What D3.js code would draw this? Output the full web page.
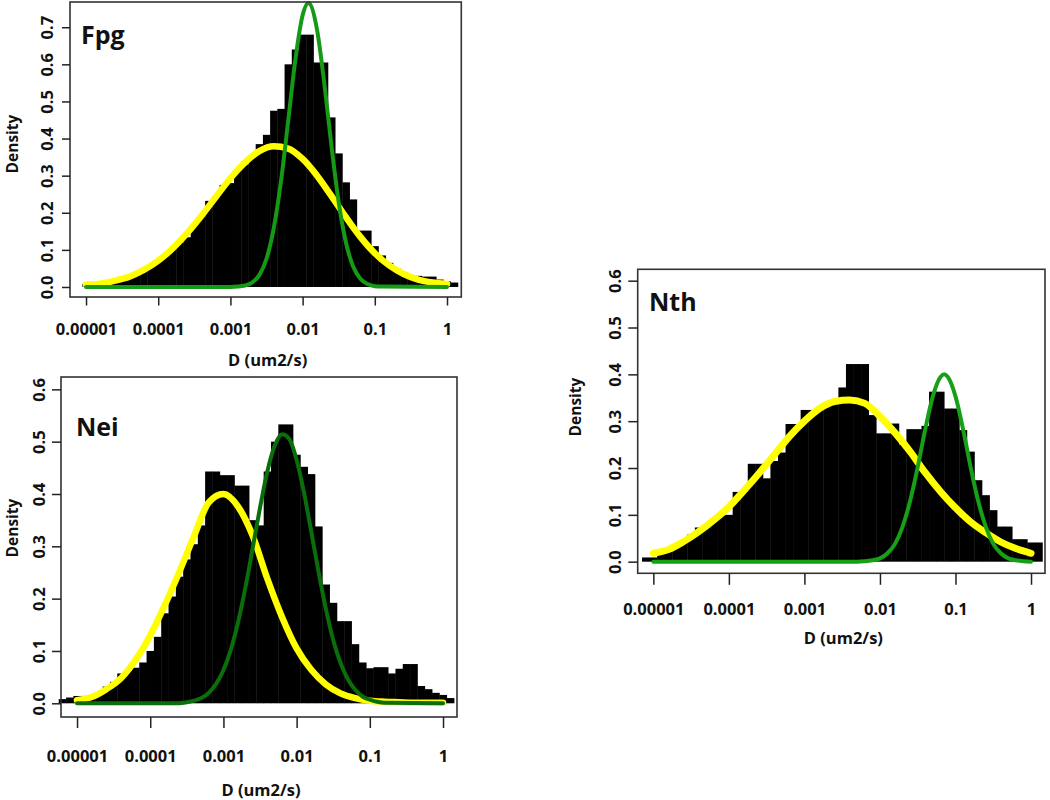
<!DOCTYPE html>
<html>
<head>
<meta charset="utf-8">
<script src="https://cdn.jsdelivr.net/npm/d3@7"></script>
<style>
  html, body { margin: 0; padding: 0; background: #ffffff; }
  svg { display: block; }
  text { font-family: "Open Sans", Lato, "DejaVu Sans", sans-serif; font-weight: 700; fill: #111; }
</style>
</head>
<body>
<svg id="chart" width="1050" height="800"></svg>
<script>
// ---------------- DATA ----------------
const tickValues = [1e-5, 1e-4, 1e-3, 1e-2, 1e-1, 1];
const tickLabels = ["0.00001", "0.0001", "0.001", "0.01", "0.1", "1"];
const xLabel = "D (um2/s)";
const yLabel = "Density";
const binWidthLog = 0.1;   // histogram bin width in log10(D)

// Fpg
const fpgTitle = "Fpg";
const fpgYTicks = [0, 0.1, 0.2, 0.3, 0.4, 0.5, 0.6, 0.7];
const fpgBinStart = -5.05;
const fpgHeights = [0.008, 0.006, 0.008, 0.010, 0.014, 0.018, 0.026, 0.040, 0.045, 0.055,
  0.070, 0.085, 0.105, 0.120, 0.134, 0.167, 0.190, 0.232, 0.245, 0.275,
  0.280, 0.318, 0.330, 0.350, 0.385, 0.410, 0.475, 0.480, 0.600, 0.640,
  0.680, 0.680, 0.605, 0.605, 0.457, 0.360, 0.282, 0.236, 0.152, 0.152,
  0.110, 0.085, 0.065, 0.050, 0.040, 0.032, 0.030, 0.028, 0.028, 0.020,
  0.015, 0.012];
const fpgYellowLogD = [-5.0, -4.8, -4.6, -4.4, -4.2, -4.0, -3.8, -3.6, -3.4, -3.2, -3.0, -2.8, -2.6,
  -2.4, -2.2, -2.0, -1.8, -1.6, -1.4, -1.2, -1.0, -0.8, -0.6, -0.4, -0.2, 0.0];
const fpgYellow = [0.007, 0.009, 0.017, 0.028, 0.046, 0.071, 0.104, 0.145, 0.192, 0.243, 0.293, 0.335, 0.366,
  0.379, 0.373, 0.345, 0.300, 0.245, 0.188, 0.135, 0.091, 0.058, 0.035, 0.020, 0.012, 0.008];
const fpgGreenLogD = [-5.0, -3.0, -2.9, -2.8, -2.7, -2.6, -2.5, -2.4, -2.3, -2.2, -2.1, -2.0, -1.92,
  -1.8, -1.7, -1.6, -1.5, -1.4, -1.3, -1.2, -1.1, -1.0, -0.9, 0.0];
const fpgGreen = [0, 0, 0.001, 0.004, 0.012, 0.032, 0.076, 0.158, 0.284, 0.447, 0.613, 0.732, 0.765,
  0.693, 0.549, 0.379, 0.228, 0.120, 0.055, 0.022, 0.008, 0.002, 0.001, 0];

// Nei
const neiTitle = "Nei";
const neiYTicks = [0, 0.1, 0.2, 0.3, 0.4, 0.5, 0.6];
const neiBinStart = -5.25;
const neiHeights = [0.008, 0.011, 0.014, 0.014, 0.014, 0.019, 0.032, 0.041, 0.057, 0.062,
  0.068, 0.078, 0.100, 0.127, 0.172, 0.204, 0.242, 0.275, 0.304, 0.340,
  0.443, 0.443, 0.436, 0.436, 0.416, 0.416, 0.350, 0.340, 0.443, 0.500,
  0.533, 0.533, 0.475, 0.452, 0.438, 0.338, 0.227, 0.192, 0.157, 0.157,
  0.113, 0.078, 0.067, 0.069, 0.069, 0.057, 0.066, 0.075, 0.075, 0.033,
  0.027, 0.020, 0.016, 0.010];
const neiYellowLogD = fpgYellowLogD;
const neiYellow = [0.006, 0.012, 0.027, 0.048, 0.083, 0.130, 0.188, 0.252, 0.320, 0.384, 0.400, 0.376, 0.320,
  0.238, 0.165, 0.105, 0.064, 0.036, 0.019, 0.010, 0.005, 0.003, 0.002, 0.001, 0.001, 0.001];
const neiGreenLogD = [-5.0, -3.6, -3.5, -3.4, -3.3, -3.2, -3.1, -3.0, -2.9, -2.8, -2.7, -2.6, -2.5, -2.4,
  -2.3, -2.2, -2.1, -2.0, -1.9, -1.8, -1.7, -1.6, -1.5, -1.4, -1.3, -1.2, -1.1, -1.0, -0.9, -0.8, 0.0];
const neiGreen = [0, 0, 0.002, 0.005, 0.010, 0.020, 0.037, 0.063, 0.102, 0.155, 0.221, 0.297, 0.374, 0.443,
  0.492, 0.514, 0.505, 0.465, 0.403, 0.328, 0.251, 0.180, 0.121, 0.077, 0.046, 0.026, 0.013, 0.007, 0.003, 0.001, 0];

// Nth
const nthTitle = "Nth";
const nthYTicks = [0, 0.1, 0.2, 0.3, 0.4, 0.5, 0.6];
const nthBinStart = -5.15;
const nthHeights = [0.009, 0.009, 0.026, 0.026, 0.035, 0.045, 0.058, 0.073, 0.073, 0.089,
  0.100, 0.100, 0.149, 0.149, 0.209, 0.209, 0.178, 0.215, 0.233, 0.294,
  0.294, 0.324, 0.324, 0.324, 0.335, 0.345, 0.372, 0.422, 0.422, 0.422,
  0.313, 0.274, 0.274, 0.295, 0.250, 0.283, 0.283, 0.290, 0.363, 0.363,
  0.327, 0.327, 0.281, 0.235, 0.174, 0.142, 0.110, 0.075, 0.075, 0.048,
  0.048, 0.041, 0.041];
const nthYellowLogD = fpgYellowLogD;
const nthYellow = [0.018, 0.026, 0.043, 0.064, 0.089, 0.117, 0.152, 0.189, 0.228, 0.267, 0.300, 0.327, 0.342,
  0.345, 0.338, 0.310, 0.275, 0.235, 0.190, 0.150, 0.115, 0.085, 0.062, 0.042, 0.028, 0.018];
const nthGreenLogD = [-5.0, -2.3, -2.2, -2.1, -2.0, -1.9, -1.8, -1.7, -1.6, -1.5, -1.4, -1.3, -1.2, -1.15,
  -1.1, -1.0, -0.9, -0.8, -0.7, -0.6, -0.5, -0.4, -0.3, -0.2, -0.1, 0.0];
const nthGreen = [0, 0, 0.001, 0.003, 0.007, 0.018, 0.038, 0.075, 0.130, 0.202, 0.283, 0.353, 0.394, 0.400,
  0.394, 0.353, 0.283, 0.202, 0.130, 0.075, 0.038, 0.018, 0.007, 0.003, 0.001, 0];

// ---------------- LAYOUT ----------------
const panels = [
  { title: fpgTitle, yTicks: fpgYTicks, binStart: fpgBinStart, heights: fpgHeights,
    yellowX: fpgYellowLogD, yellow: fpgYellow, greenX: fpgGreenLogD, green: fpgGreen,
    box: { x0: 70, x1: 461.3, y0: 2, y1: 297 }, xDom: [-5.222, 0.198], yDom: [-0.027, 0.768],
    green_c: "#149a14", yellowW: 6.5, greenW: 4,
    xTick: 8.5, yTick: 8, xLabBase: 38, xTitleBase: 69, yLabOff: 17,
    titlePos: [81, 44], densPos: [18, 144] },
  { title: neiTitle, yTicks: neiYTicks, binStart: neiBinStart, heights: neiHeights,
    yellowX: neiYellowLogD, yellow: neiYellow, greenX: neiGreenLogD, green: neiGreen,
    box: { x0: 61, x1: 457, y0: 377, y1: 717 }, xDom: [-5.219, 0.191], yDom: [-0.0262, 0.6236],
    green_c: "#0a6e0a", yellowW: 6.5, greenW: 4,
    xTick: 11, yTick: 9, xLabBase: 45, xTitleBase: 79, yLabOff: 16,
    titlePos: [76, 436], densPos: [18, 528] },
  { title: nthTitle, yTicks: nthYTicks, binStart: nthBinStart, heights: nthHeights,
    yellowX: nthYellowLogD, yellow: nthYellow, greenX: nthGreenLogD, green: nthGreen,
    box: { x0: 637.7, x1: 1045, y0: 269.3, y1: 573.3 }, xDom: [-5.207, 0.185], yDom: [-0.0248, 0.6243],
    green_c: "#16a016", yellowW: 7, greenW: 4,
    xTick: 11.5, yTick: 9.4, xLabBase: 42, xTitleBase: 71, yLabOff: 17,
    titlePos: [649, 311], densPos: [581, 407] }
];

const svg = d3.select("#chart");
const FONT = "'Open Sans', Lato, sans-serif";

panels.forEach(p => {
  const g = svg.append("g");
  const b = p.box;
  const x = d3.scaleLog()
    .domain([Math.pow(10, p.xDom[0]), Math.pow(10, p.xDom[1])])
    .range([b.x0, b.x1]);
  const y = d3.scaleLinear().domain(p.yDom).range([b.y1, b.y0]);

  // histogram bars
  const bins = p.heights.map((h, i) => ({
    lo: Math.pow(10, p.binStart + i * binWidthLog),
    hi: Math.pow(10, p.binStart + (i + 1) * binWidthLog),
    h: h
  }));
  g.append("g").selectAll("rect").data(bins).join("rect")
    .attr("x", d => x(d.lo))
    .attr("width", d => x(d.hi) - x(d.lo) + 0.4)
    .attr("y", d => y(d.h))
    .attr("height", d => y(0) - y(d.h))
    .attr("fill", "#000");

  // fitted curves
  const line = d3.line()
    .x(d => x(Math.pow(10, d[0])))
    .y(d => y(d[1]))
    .curve(d3.curveMonotoneX);
  g.append("path")
    .attr("d", line(p.yellowX.map((v, i) => [v, p.yellow[i]])))
    .attr("fill", "none").attr("stroke", "#ffff00")
    .attr("stroke-width", p.yellowW).attr("stroke-linecap", "round").attr("stroke-linejoin", "round");
  g.append("path")
    .attr("d", line(p.greenX.map((v, i) => [v, p.green[i]])))
    .attr("fill", "none").attr("stroke", p.green_c)
    .attr("stroke-width", p.greenW).attr("stroke-linecap", "round").attr("stroke-linejoin", "round");

  // box
  g.append("rect")
    .attr("x", b.x0).attr("y", b.y0)
    .attr("width", b.x1 - b.x0).attr("height", b.y1 - b.y0)
    .attr("fill", "none").attr("stroke", "#333").attr("stroke-width", 1.6);

  // x axis
  const xa = d3.axisBottom(x).tickValues(tickValues)
    .tickFormat((d, i) => tickLabels[i]).tickSize(p.xTick).tickSizeOuter(0);
  const xg = g.append("g").attr("transform", `translate(0,${b.y1})`).call(xa);
  xg.select(".domain").remove();
  xg.selectAll(".tick line").attr("stroke", "#222").attr("stroke-width", 1.5);
  xg.selectAll(".tick text")
    .attr("y", p.xLabBase).attr("dy", null)
    .style("font-family", FONT)
    .style("font-weight", "700").style("font-size", "16.5px").attr("fill", "#111");

  // y axis
  const ya = d3.axisLeft(y).tickValues(p.yTicks)
    .tickFormat(d3.format(".1f")).tickSize(p.yTick).tickSizeOuter(0);
  const yg = g.append("g").attr("transform", `translate(${b.x0},0)`).call(ya);
  yg.select(".domain").remove();
  yg.selectAll(".tick line").attr("stroke", "#222").attr("stroke-width", 1.5);
  yg.selectAll(".tick text")
    .attr("x", null).attr("dy", null)
    .attr("text-anchor", "middle")
    .attr("transform", `translate(${-p.yLabOff},0) rotate(-90)`)
    .style("font-family", FONT)
    .style("font-weight", "700").style("font-size", "16.5px").attr("fill", "#111");

  // titles
  g.append("text")
    .attr("x", (b.x0 + b.x1) / 2 + 2).attr("y", b.y1 + p.xTitleBase)
    .attr("text-anchor", "middle").style("font-size", "16.5px").text(xLabel);
  g.append("text")
    .attr("transform", `translate(${p.densPos[0]},${p.densPos[1]}) rotate(-90)`)
    .attr("text-anchor", "middle").style("font-size", "15.5px").text(yLabel);
  g.append("text")
    .attr("x", p.titlePos[0]).attr("y", p.titlePos[1])
    .style("font-size", "25px").text(p.title);
});
</script>
</body>
</html>
